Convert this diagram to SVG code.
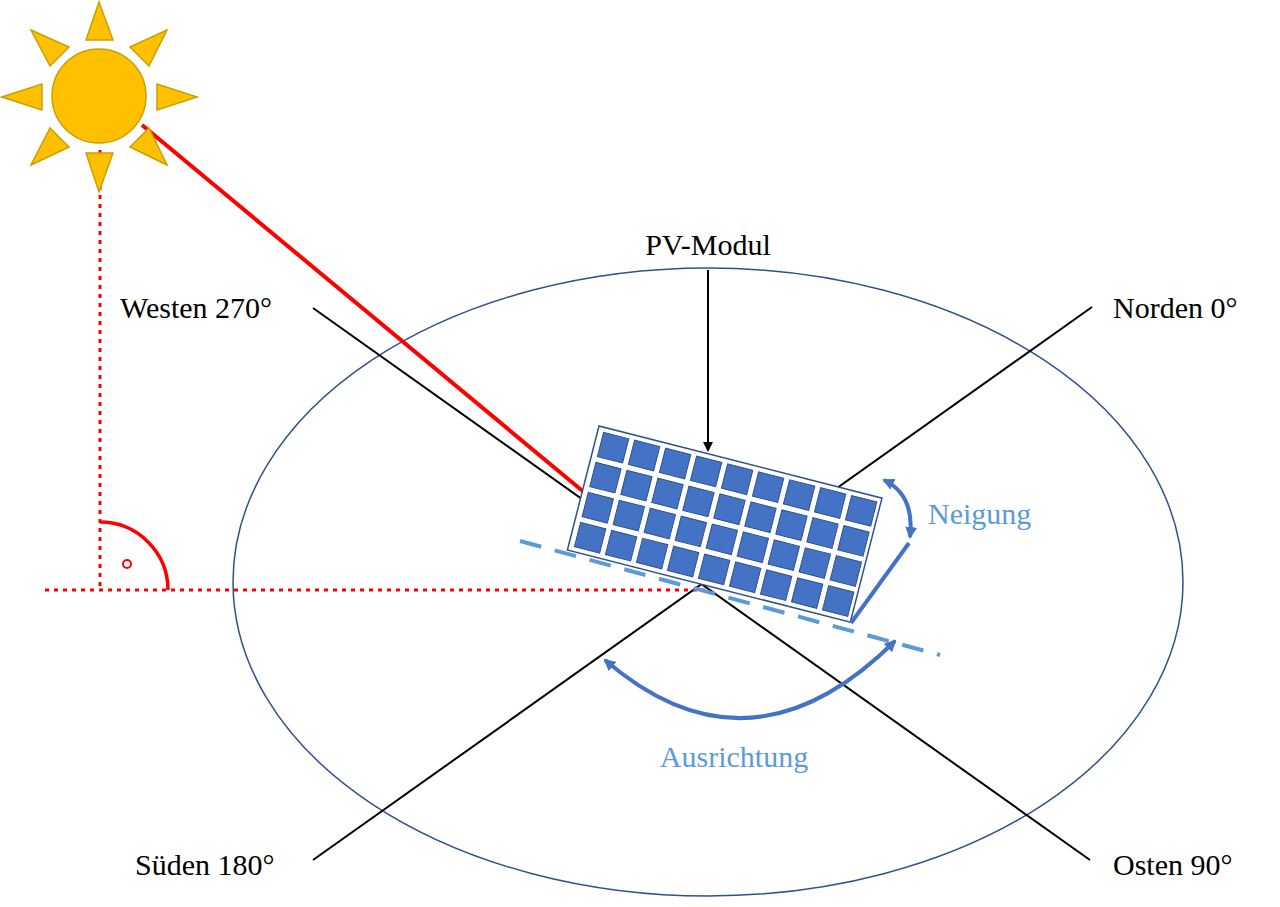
<svg xmlns="http://www.w3.org/2000/svg" width="1280" height="907" viewBox="0 0 1280 907">
<style>
text{font-family:"Liberation Serif",serif;font-size:30px;fill:#000}
.blue{fill:#5b9bd5}
.ray{fill:#ffc000;stroke:#c9a000;stroke-width:1.5}
.cell{fill:#4472c4;stroke:#2f528f;stroke-width:1}
</style>
<defs>
<marker id="ah" markerWidth="10" markerHeight="10" refX="8" refY="5" orient="auto-start-reverse" markerUnits="userSpaceOnUse"><path d="M0,0 L10,5 L0,10 z" fill="#000"/></marker>
<marker id="bh" markerWidth="14" markerHeight="14" refX="10" refY="7" orient="auto-start-reverse" markerUnits="userSpaceOnUse"><path d="M0,1 L12,7 L0,13 z" fill="#4472c4"/></marker>
</defs>
<rect width="1280" height="907" fill="#fff"/>
<ellipse cx="708" cy="582" rx="475" ry="314" fill="none" stroke="#2f528f" stroke-width="1.5"/>
<g id="connectors">
<line x1="313" y1="308" x2="1090" y2="860" stroke="#000" stroke-width="2"/>
<line x1="1092" y1="307" x2="313" y2="860" stroke="#000" stroke-width="2"/>
<line x1="142" y1="125" x2="585" y2="493" stroke="#f00" stroke-width="4"/>
<line x1="100" y1="150" x2="100" y2="590" stroke="#f00" stroke-width="3" stroke-dasharray="4,5"/>
<line x1="45" y1="590" x2="705" y2="590" stroke="#f00" stroke-width="3" stroke-dasharray="4,5"/>
<path d="M100,522 A68,68 0 0 1 168,590" fill="none" stroke="#f00" stroke-width="3.5"/>
<circle cx="127" cy="564" r="4" fill="none" stroke="#f00" stroke-width="2"/>
<line x1="708" y1="270" x2="708" y2="450" stroke="#000" stroke-width="2" marker-end="url(#ah)"/>
</g>
<g id="pv-modul" transform="translate(599,426) rotate(14.3)">
<rect x="0" y="0" width="292" height="128" fill="#fff" stroke="#2f528f" stroke-width="1.5"/>
<g class="cell">
<rect x="6" y="5" width="26" height="25"/><rect x="38" y="5" width="26" height="25"/><rect x="70" y="5" width="26" height="25"/><rect x="102" y="5" width="26" height="25"/><rect x="134" y="5" width="26" height="25"/><rect x="166" y="5" width="26" height="25"/><rect x="198" y="5" width="26" height="25"/><rect x="230" y="5" width="26" height="25"/><rect x="262" y="5" width="26" height="25"/>
<rect x="6" y="36" width="26" height="25"/><rect x="38" y="36" width="26" height="25"/><rect x="70" y="36" width="26" height="25"/><rect x="102" y="36" width="26" height="25"/><rect x="134" y="36" width="26" height="25"/><rect x="166" y="36" width="26" height="25"/><rect x="198" y="36" width="26" height="25"/><rect x="230" y="36" width="26" height="25"/><rect x="262" y="36" width="26" height="25"/>
<rect x="6" y="67" width="26" height="25"/><rect x="38" y="67" width="26" height="25"/><rect x="70" y="67" width="26" height="25"/><rect x="102" y="67" width="26" height="25"/><rect x="134" y="67" width="26" height="25"/><rect x="166" y="67" width="26" height="25"/><rect x="198" y="67" width="26" height="25"/><rect x="230" y="67" width="26" height="25"/><rect x="262" y="67" width="26" height="25"/>
<rect x="6" y="98" width="26" height="25"/><rect x="38" y="98" width="26" height="25"/><rect x="70" y="98" width="26" height="25"/><rect x="102" y="98" width="26" height="25"/><rect x="134" y="98" width="26" height="25"/><rect x="166" y="98" width="26" height="25"/><rect x="198" y="98" width="26" height="25"/><rect x="230" y="98" width="26" height="25"/><rect x="262" y="98" width="26" height="25"/>
</g>
</g>
<g id="angles">
<line x1="520" y1="541" x2="940" y2="655" stroke="#5b9bd5" stroke-width="4" stroke-dasharray="22,14"/>
<line x1="851" y1="623" x2="909" y2="543" stroke="#4472c4" stroke-width="4"/>
<path d="M884,480 Q915,495 910,537" fill="none" stroke="#4472c4" stroke-width="4" marker-start="url(#bh)" marker-end="url(#bh)"/>
<path d="M605,660 Q750,785 895,641" fill="none" stroke="#4472c4" stroke-width="4" marker-start="url(#bh)" marker-end="url(#bh)"/>
</g>
<g id="sun">
<circle cx="99" cy="96" r="47" fill="#ffc000" stroke="#c9a000" stroke-width="1.5"/>
<g class="ray">
<polygon points="86,40 113,40 99,2"/>
<polygon points="86,153 113,153 99,192"/>
<polygon points="42,84 42,110 2,97"/>
<polygon points="157,84 157,110 197,97"/>
<polygon points="31,30 69,47 50,66"/>
<polygon points="167,30 130,47 149,66"/>
<polygon points="31,165 69,147 50,128"/>
<polygon points="167,165 130,147 149,128"/>
</g>
</g>
<g id="labels">
<text x="708" y="255" text-anchor="middle">PV-Modul</text>
<text x="120" y="318">Westen 270°</text>
<text x="1113" y="318">Norden 0°</text>
<text x="135" y="875">Süden 180°</text>
<text x="1113" y="875">Osten 90°</text>
<text x="928" y="524" class="blue">Neigung</text>
<text x="734" y="767" text-anchor="middle" class="blue">Ausrichtung</text>
</g>
</svg>
